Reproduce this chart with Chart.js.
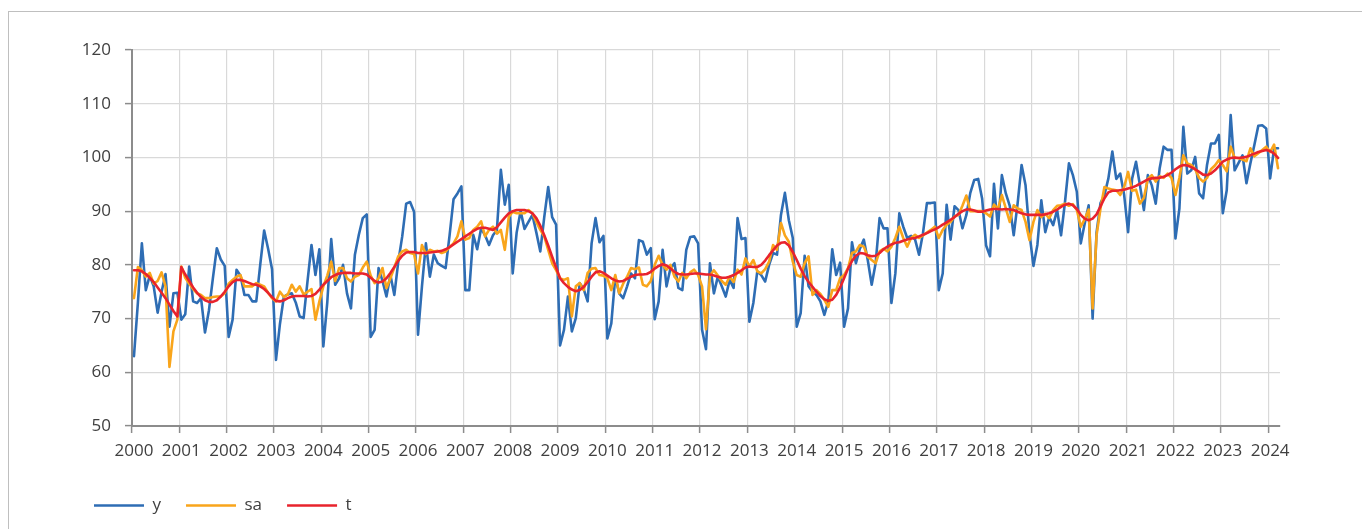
<!DOCTYPE html>
<html>
<head>
<meta charset="utf-8">
<script src="https://cdn.jsdelivr.net/npm/chart.js@4.4.1/dist/chart.umd.min.js"></script>
<style>
  html, body { margin: 0; padding: 0; background: #fff; overflow: hidden; }
  #frame { position: absolute; left: 8px; top: 11px; width: 1400px; height: 600px; border: 1px solid #bfbfbf; }
  #wrap { position: absolute; left: 0; top: 0; width: 1362px; height: 524px; }
</style>
</head>
<body>
<div id="frame"></div>
<div id="wrap"><canvas id="chart" width="1362" height="524"></canvas></div>
<script>
// monthly, Jan 2000 .. Mar 2024
const startYear = 2000;
const monthCount = 291;
const months = [];
for (let i = 0; i < monthCount; i++) {
    const yr = startYear + Math.floor(i / 12);
    const m = (i % 12) + 1;
    months.push(yr + '-' + (m < 10 ? '0' + m : m));
}

// raw series
const y = [
    63, 73, 84, 75.3, 78, 76, 71.1, 75, 78.3, 68.5, 74.7, 74.8,
    69.8, 70.8, 79.7, 73.2, 72.9, 73.8, 67.4, 71.5, 77.5, 83.1, 81, 79.8,
    66.6, 69.8, 79.1, 78, 74.4, 74.4, 73.2, 73.2, 80, 86.4, 83, 79.2,
    62.3, 69, 74.1, 74.5, 74.7, 73, 70.4, 70.1, 77, 83.7, 78.1, 82.9,
    64.8, 73, 84.8, 76.3, 77.5, 80, 74.7, 71.9, 81.9, 85.6, 88.7, 89.4,
    66.6, 67.9, 79.4, 77, 74.1, 78.1, 74.4, 80.6, 85.3, 91.4, 91.7, 89.9,
    67, 76, 84, 77.8, 81.9, 80.3, 79.8, 79.4, 85.5, 92.2, 93.3, 94.6,
    75.3, 75.3, 85.6, 82.9, 86.8, 85.5, 83.7, 85.5, 86.5, 97.7, 91.2, 94.9,
    78.4, 86, 90, 86.7, 88, 89.3, 86, 82.5, 88.9, 94.5, 88.9, 87.5,
    65, 67.9, 74.1, 67.6, 70.1, 76.6, 75.5, 73.2, 84, 88.7, 84.2, 85.4,
    66.3, 69.1, 77.8, 74.7, 73.8, 76, 78.4, 77.5, 84.6, 84.3, 81.9, 83.1,
    69.9, 73.2, 82.8, 76, 79.4, 80.3, 75.7, 75.3, 82.8, 85.2, 85.3, 84,
    67.9, 64.3, 80.3, 74.7, 77.8, 76, 74.1, 77.2, 75.7, 88.7, 84.8, 85,
    69.4, 72.9, 78.8, 78.1, 76.9, 80, 82.2, 81.9, 89.3, 93.4, 88.3, 85,
    68.5, 71, 81.7, 76, 75, 74.4, 73.2, 70.7, 73.2, 82.9, 78.1, 80.4,
    68.5, 71.9, 84.2, 80.3, 83, 84.7, 80.9, 76.3, 80.3, 88.7, 86.8, 86.8,
    72.9, 78.4, 89.6, 87.1, 85, 85.4, 84.7, 81.9, 85.9, 91.5, 91.5, 91.6,
    75.3, 78.4, 91.2, 84.7, 90.9, 90.2, 86.8, 89.3, 93.4, 95.8, 96, 92.3,
    83.6, 81.6, 95.1, 86.8, 96.7, 93.3, 91, 85.5, 91.5, 98.6, 94.8, 85.8,
    79.8, 83.7, 92, 86.1, 88.9, 87.4, 90.2, 85.5, 91.7, 98.9, 96.7, 93.6,
    84, 87.7, 91.1, 70, 86, 91.5, 93, 96.1, 101.1, 96, 97, 93,
    86.1, 96, 99.2, 94.8, 90.2, 96.7, 94.8, 91.4, 98, 102, 101.4, 101.4,
    84.9, 90.5, 105.7, 97, 97.6, 100.1, 93.3, 92.4, 98.6, 102.6, 102.6, 104.2,
    89.6, 93.9, 107.9, 97.6, 99, 100.4, 95.2, 98.9, 102.3, 105.9, 106, 105.4,
    96.1, 101.7, 101.7
];

// seasonally adjusted
const sa = [
    73.8, 79.6, 79, 77.8, 78.5, 76.5, 77, 78.6, 76, 61, 67.6, 69.8,
    79.7, 77.6, 76.5, 75.5, 74.7, 74.4, 73.8, 73.8, 74, 74.1, 74.1, 74.7,
    76.5, 77.2, 77.8, 78.1, 76, 76, 76, 76.6, 76.3, 76, 74.8, 73.8,
    73.2, 75, 74, 74.5, 76.3, 75, 76, 74.5, 75, 75.5, 69.8, 73.2,
    76, 78, 80.6, 77, 79.4, 79.4, 77.5, 76.9, 77.8, 78.1, 79.5, 80.6,
    78, 76.6, 77.5, 79.4, 75.7, 77.5, 79.5, 81.6, 82.5, 82.8, 82.2, 82,
    78.4, 83.7, 82, 82.8, 82.5, 82.6, 82.2, 82.5, 83.3, 84, 85.3, 88.1,
    84.7, 85, 86.5, 87.1, 88.1, 85.3, 86.5, 87.1, 85.8, 86.5, 82.8, 88.9,
    89.9, 89.6, 89.6, 89.6, 90.2, 89.6, 88, 86.5, 85.3, 82.8, 80.3, 79,
    77.5, 77.2, 77.5, 70.4, 76, 76.6, 75.3, 78.5, 79.3, 79.4, 78.1, 78,
    77.5, 75.3, 78.1, 74.7, 76.5, 77.8, 79.4, 79.2, 79.5, 76.3, 76, 77,
    80, 81.7, 80, 79.1, 80, 77.8, 76.9, 78.5, 77.5, 78.6, 79.1, 78.1,
    76, 68, 78, 79, 78, 77, 76.3, 77.8, 76.8, 79.1, 78.2, 81.2,
    79.7, 80.9, 78.8, 78.4, 79.2, 80.6, 83.7, 82.8, 87.8, 85.5, 84.3, 80.6,
    78.1, 77.8, 80.3, 81.6, 74.4, 75.3, 74.6, 73.5, 72.2, 75.3, 75.3, 77.5,
    78.1, 79.4, 82.2, 82.5, 83.7, 83.4, 81.5, 80.9, 80.3, 82.5, 83, 82.5,
    83.4, 85, 87.1, 85, 83.4, 85, 85.6, 85, 85.5, 86, 86.5, 87.1,
    85, 86.5, 87.5, 88, 89, 89.3, 91, 92.9, 90, 90, 90, 90,
    89.6, 89, 91.2, 90.4, 93, 90.5, 88, 91.1, 90.5, 90.2, 88, 84.6,
    88, 90.2, 88.9, 89.5, 88.7, 90.2, 91, 91.1, 91.4, 91, 91.3, 90.2,
    87.1, 88.5, 90.3, 71.9, 85.5, 90.5, 94.5, 94.2, 94, 93.9, 93, 94.5,
    97.3, 93.8, 94, 91.4, 92.5, 96, 96.7, 95.5, 96.5, 96.2, 97, 96.2,
    93, 96.2, 100.4, 98.9, 98.6, 97.8, 96.2, 95.5, 96.2, 97.8, 98.5, 99.5,
    98.6, 97.4, 102, 99.9, 99.9, 99.6, 99.3, 101.7, 100.2, 100.8, 101.4, 102,
    101, 102.4, 98
];

// trend
const t = [
    79, 79, 78.8, 78.3, 77.6, 76.8, 75.8, 74.8, 73.8, 72.6, 71.4, 70.4,
    79.6, 78.2, 77, 75.8, 74.8, 74, 73.4, 73.1, 73.1, 73.4, 74.1, 75,
    76, 76.8, 77.2, 77.2, 77, 76.7, 76.4, 76.3, 76, 75.5, 74.8, 74,
    73.3, 73.2, 73.4, 73.8, 74.1, 74.2, 74.2, 74.2, 74.1, 74.2, 74.6, 75.4,
    76.3, 77, 77.7, 78.1, 78.4, 78.5, 78.5, 78.5, 78.4, 78.4, 78.4, 78.2,
    77.6, 77, 76.7, 76.9, 77.5, 78.5, 79.6, 80.8, 81.7, 82.3, 82.4, 82.4,
    82.2, 82.2, 82.2, 82.3, 82.4, 82.5, 82.6, 82.9, 83.3, 83.8, 84.3, 84.8,
    85.3, 85.8, 86.3, 86.7, 86.9, 86.9, 86.7, 86.5, 87, 87.9, 88.8, 89.6,
    90, 90.2, 90.2, 90.2, 90, 89.6, 88.7, 87.3, 85.5, 83.6, 81.5, 79.5,
    77.5, 76.6, 75.9, 75.4, 75.1, 75.3, 75.9, 76.8, 77.8, 78.6, 78.8, 78.5,
    78, 77.5, 77.1, 76.9, 77, 77.4, 77.8, 78.1, 78.2, 78.2, 78.3, 78.7,
    79.3, 79.8, 80.1, 79.9, 79.3, 78.7, 78.3, 78.2, 78.2, 78.3, 78.4, 78.4,
    78.3, 78.2, 78.2, 78, 77.8, 77.6, 77.6, 77.8, 78.1, 78.5, 79, 79.5,
    79.7, 79.6, 79.6, 80, 80.8, 81.8, 82.7, 83.6, 84.1, 84.2, 83.6, 82.4,
    80.9, 79.3, 77.9, 76.8, 75.9, 75, 74.2, 73.6, 73.3, 73.5, 74.4, 75.8,
    77.5, 79.3, 80.7, 81.7, 82.2, 82.1, 81.8, 81.6, 81.7, 82.2, 82.9, 83.4,
    83.8, 84.1, 84.2, 84.5, 84.7, 84.9, 85, 85.3, 85.6, 85.9, 86.3, 86.6,
    87, 87.5, 87.9, 88.4, 88.9, 89.5, 90, 90.3, 90.3, 90.1, 89.9, 89.9,
    90.1, 90.3, 90.4, 90.4, 90.3, 90.4, 90.3, 90.2, 89.9, 89.6, 89.4, 89.3,
    89.3, 89.3, 89.3, 89.4, 89.6, 89.9, 90.3, 90.8, 91.2, 91.4, 91.1, 90.4,
    89.3, 88.6, 88.3, 88.6, 89.4, 90.9, 92.4, 93.5, 93.8, 93.8, 93.9, 94,
    94.2, 94.4, 94.7, 95.1, 95.5, 95.9, 96.1, 96.2, 96.2, 96.4, 96.7, 97.2,
    97.8, 98.3, 98.6, 98.5, 98.2, 97.8, 97.3, 96.8, 96.7, 97, 97.6, 98.4,
    99.2, 99.6, 99.9, 100, 99.9, 100, 100.1, 100.4, 100.7, 101, 101.2, 101.4,
    101.2, 100.7, 99.9
];

const yTicks = { min: 50, max: 120, step: 10 };

const gridGray = '#d9d9d9';
const axisGray = '#8c8c8c';
const textGray = '#404040';
const font = { family: '"Open Sans", sans-serif', size: 17 };

function isYearStart(i) {
    return i % 12 === 0 && i < months.length;
}

const ctx = document.getElementById('chart').getContext('2d');

new Chart(ctx, {
    type: 'line',
    data: {
        labels: months,
        datasets: [
            { label: 'y', data: y, borderColor: '#2e6db4', backgroundColor: '#2e6db4', borderWidth: 2.6, order: 3 },
            { label: 'sa', data: sa, borderColor: '#f9a51b', backgroundColor: '#f9a51b', borderWidth: 2.6, order: 2 },
            { label: 't', data: t, borderColor: '#e8232d', backgroundColor: '#e8232d', borderWidth: 2.6, order: 1 }
        ]
    },
    options: {
        responsive: false,
        animation: false,
        elements: {
            point: { radius: 0 },
            line: { tension: 0, borderJoinStyle: 'round', borderCapStyle: 'round' }
        },
        layout: { padding: { left: 69, top: 50, right: 82, bottom: 0 } },
        scales: {
            x: {
                offset: true,
                grid: {
                    offset: true,
                    // year lines only, plus the closing line on the right
                    color: c => (isYearStart(c.index) || c.index === months.length) ? gridGray : 'rgba(0,0,0,0)',
                    tickColor: c => isYearStart(c.index) ? axisGray : 'rgba(0,0,0,0)',
                    tickLength: 7,
                    tickWidth: 1.5,
                    lineWidth: 1.2
                },
                border: { color: axisGray, width: 2 },
                ticks: {
                    autoSkip: false,
                    maxRotation: 0,
                    minRotation: 0,
                    padding: 8,
                    color: textGray,
                    font: font,
                    callback: (val, i) => i % 12 === 0 ? months[i].slice(0, 4) : ''
                },
                afterFit: s => { s.height = 46; }
            },
            y: {
                min: yTicks.min,
                max: yTicks.max,
                ticks: { stepSize: yTicks.step, padding: 14, color: textGray, font: font },
                grid: { color: gridGray, lineWidth: 1.2, tickColor: axisGray, tickLength: 7, tickWidth: 1.5 },
                border: { color: axisGray, width: 2 },
                afterFit: s => { s.width = 63; }
            }
        },
        plugins: {
            legend: {
                position: 'bottom',
                align: 'start',
                labels: {
                    usePointStyle: true,
                    pointStyle: 'line',
                    pointStyleWidth: 50,
                    padding: 25,
                    color: textGray,
                    font: font,
                    // keep y, sa, t order regardless of draw order
                    sort: (a, b) => a.datasetIndex - b.datasetIndex
                }
            },
            tooltip: { enabled: false }
        }
    }
});
</script>
</body>
</html>
